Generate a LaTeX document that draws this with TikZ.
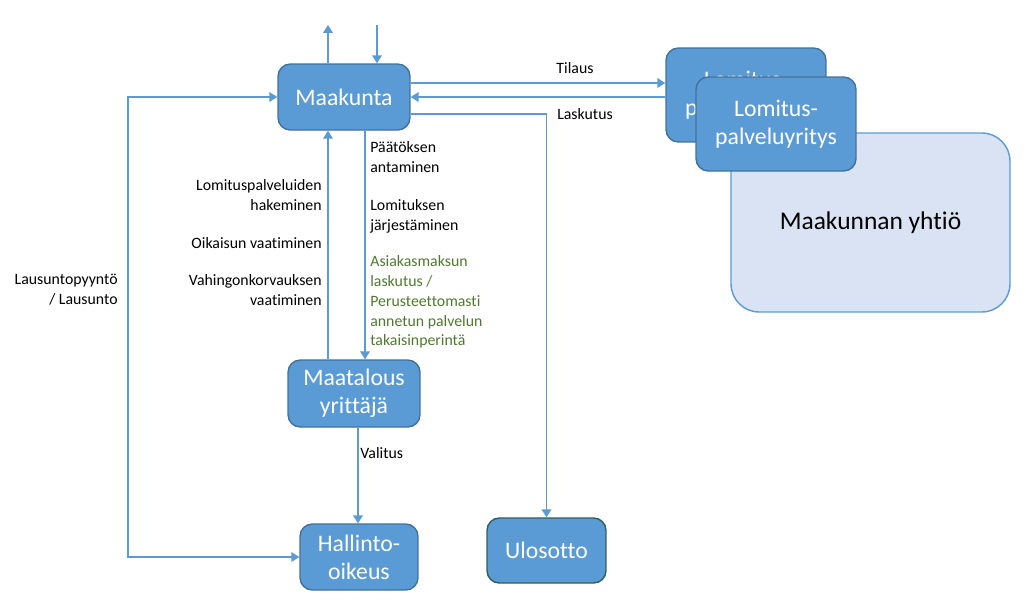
\documentclass[tikz,border=0pt]{standalone}
\usepackage{fontspec}
\setmainfont[Ligatures=NoCommon]{Carlito}
\usepackage{tikz}
\usetikzlibrary{arrows.meta,positioning,calc}
\definecolor{boxblue}{HTML}{5B9BD5}
\definecolor{boxedge}{HTML}{41719C}
\definecolor{lightco}{HTML}{DAE3F3}
\definecolor{ulosedge}{HTML}{2F5F5A}
\definecolor{greentxt}{HTML}{4E7A2E}
\tikzset{%
  box/.style={draw=boxedge,fill=boxblue,text=white,rounded corners=7pt,align=center,
    font=\fontsize{13.5}{15.8}\selectfont,line width=0.8pt},
  link/.style={draw=boxblue,line width=0.7pt,-{Triangle[width=5.5pt,length=4.5pt]}},
  lbl/.style={font=\fontsize{9}{11.3}\selectfont,inner sep=0pt},
}
\begin{document}
\begin{tikzpicture}[x=0.02cm,y=-0.02cm]
\useasboundingbox (0,0) rectangle (1024,603);
% company boxes
\node[box,fill=lightco,draw=boxblue,text=black,rounded corners=16pt,minimum width=5.58cm,minimum height=3.58cm,font=\fontsize{14.5}{17}\selectfont] (yh) at (870.5,222.5) {Maakunnan yhtiö};
\node[box,minimum width=3.2cm,minimum height=1.88cm] (lb) at (746,95) {Lomitus-\\palveluyritys};
\node[box,minimum width=3.2cm,minimum height=1.88cm] (lf) at (776,124) {Lomitus-\\palveluyritys};
% main boxes
\node[box,minimum width=2.64cm,minimum height=1.32cm] (mk) at (344,97) {Maakunta};
\node[box,minimum width=2.64cm,minimum height=1.34cm] (my) at (354,393.5) {Maatalous\\yrittäjä};
\node[box,minimum width=2.36cm,minimum height=1.32cm] (ho) at (359,557) {Hallinto-\\oikeus};
\node[box,draw=ulosedge,minimum width=2.38cm,minimum height=1.3cm] (ul) at (546.5,550.5) {Ulosotto};
\coordinate (upend) at (328,25);
\coordinate (inend) at (377,25);
\coordinate (lcorner) at (128,97);
% connectors
\draw[link] (mk.north -| upend) -- (upend);
\draw[link] (inend) -- (mk.north -| inend);
\draw[link] (mk.east |- 0,83) -- (lb.west |- 0,83);
\draw[link] (lb.west |- 0,97) -- (mk.east |- 0,97);
\draw[link] (mk.east |- 0,114) -| (ul.north);
\draw[link,{Triangle[width=5.5pt,length=4.5pt]}-{Triangle[width=5.5pt,length=4.5pt]}] (ho.west) -| (lcorner) -- (mk.west);
\draw[link] (my.north -| 328,0) -- (mk.south -| 328,0);
\draw[link] (mk.south -| 365,0) -- (my.north -| 365,0);
\draw[link] (my.south -| 358,0) -- (ho.north -| 358,0);
% labels
\node[lbl] (tl) at (575,68) {Tilaus};
\node[lbl] (lk) at (585,114) {Laskutus};
\node[lbl,anchor=west] (va) at (360,453) {Valitus};
\node[lbl,anchor=east,align=right] (ls) at (118,290) {Lausuntopyyntö\\/ Lausunto};
\node[lbl,anchor=east,align=right] (l1) at (322,195) {Lomituspalveluiden\\hakeminen};
\node[lbl,anchor=east,align=right] (l2) at (322,243) {Oikaisun vaatiminen};
\node[lbl,anchor=east,align=right] (l3) at (322,290) {Vahingonkorvauksen\\vaatiminen};
\node[lbl,anchor=west,align=left] (r1) at (370,157) {Päätöksen\\antaminen};
\node[lbl,anchor=west,align=left] (r2) at (370,216) {Lomituksen\\järjestäminen};
\node[lbl,anchor=west,align=left,text=greentxt] (r3) at (370,302) {Asiakasmaksun\\laskutus /\\Perusteettomasti\\annetun palvelun\\takaisinperintä};
\end{tikzpicture}
\end{document}
